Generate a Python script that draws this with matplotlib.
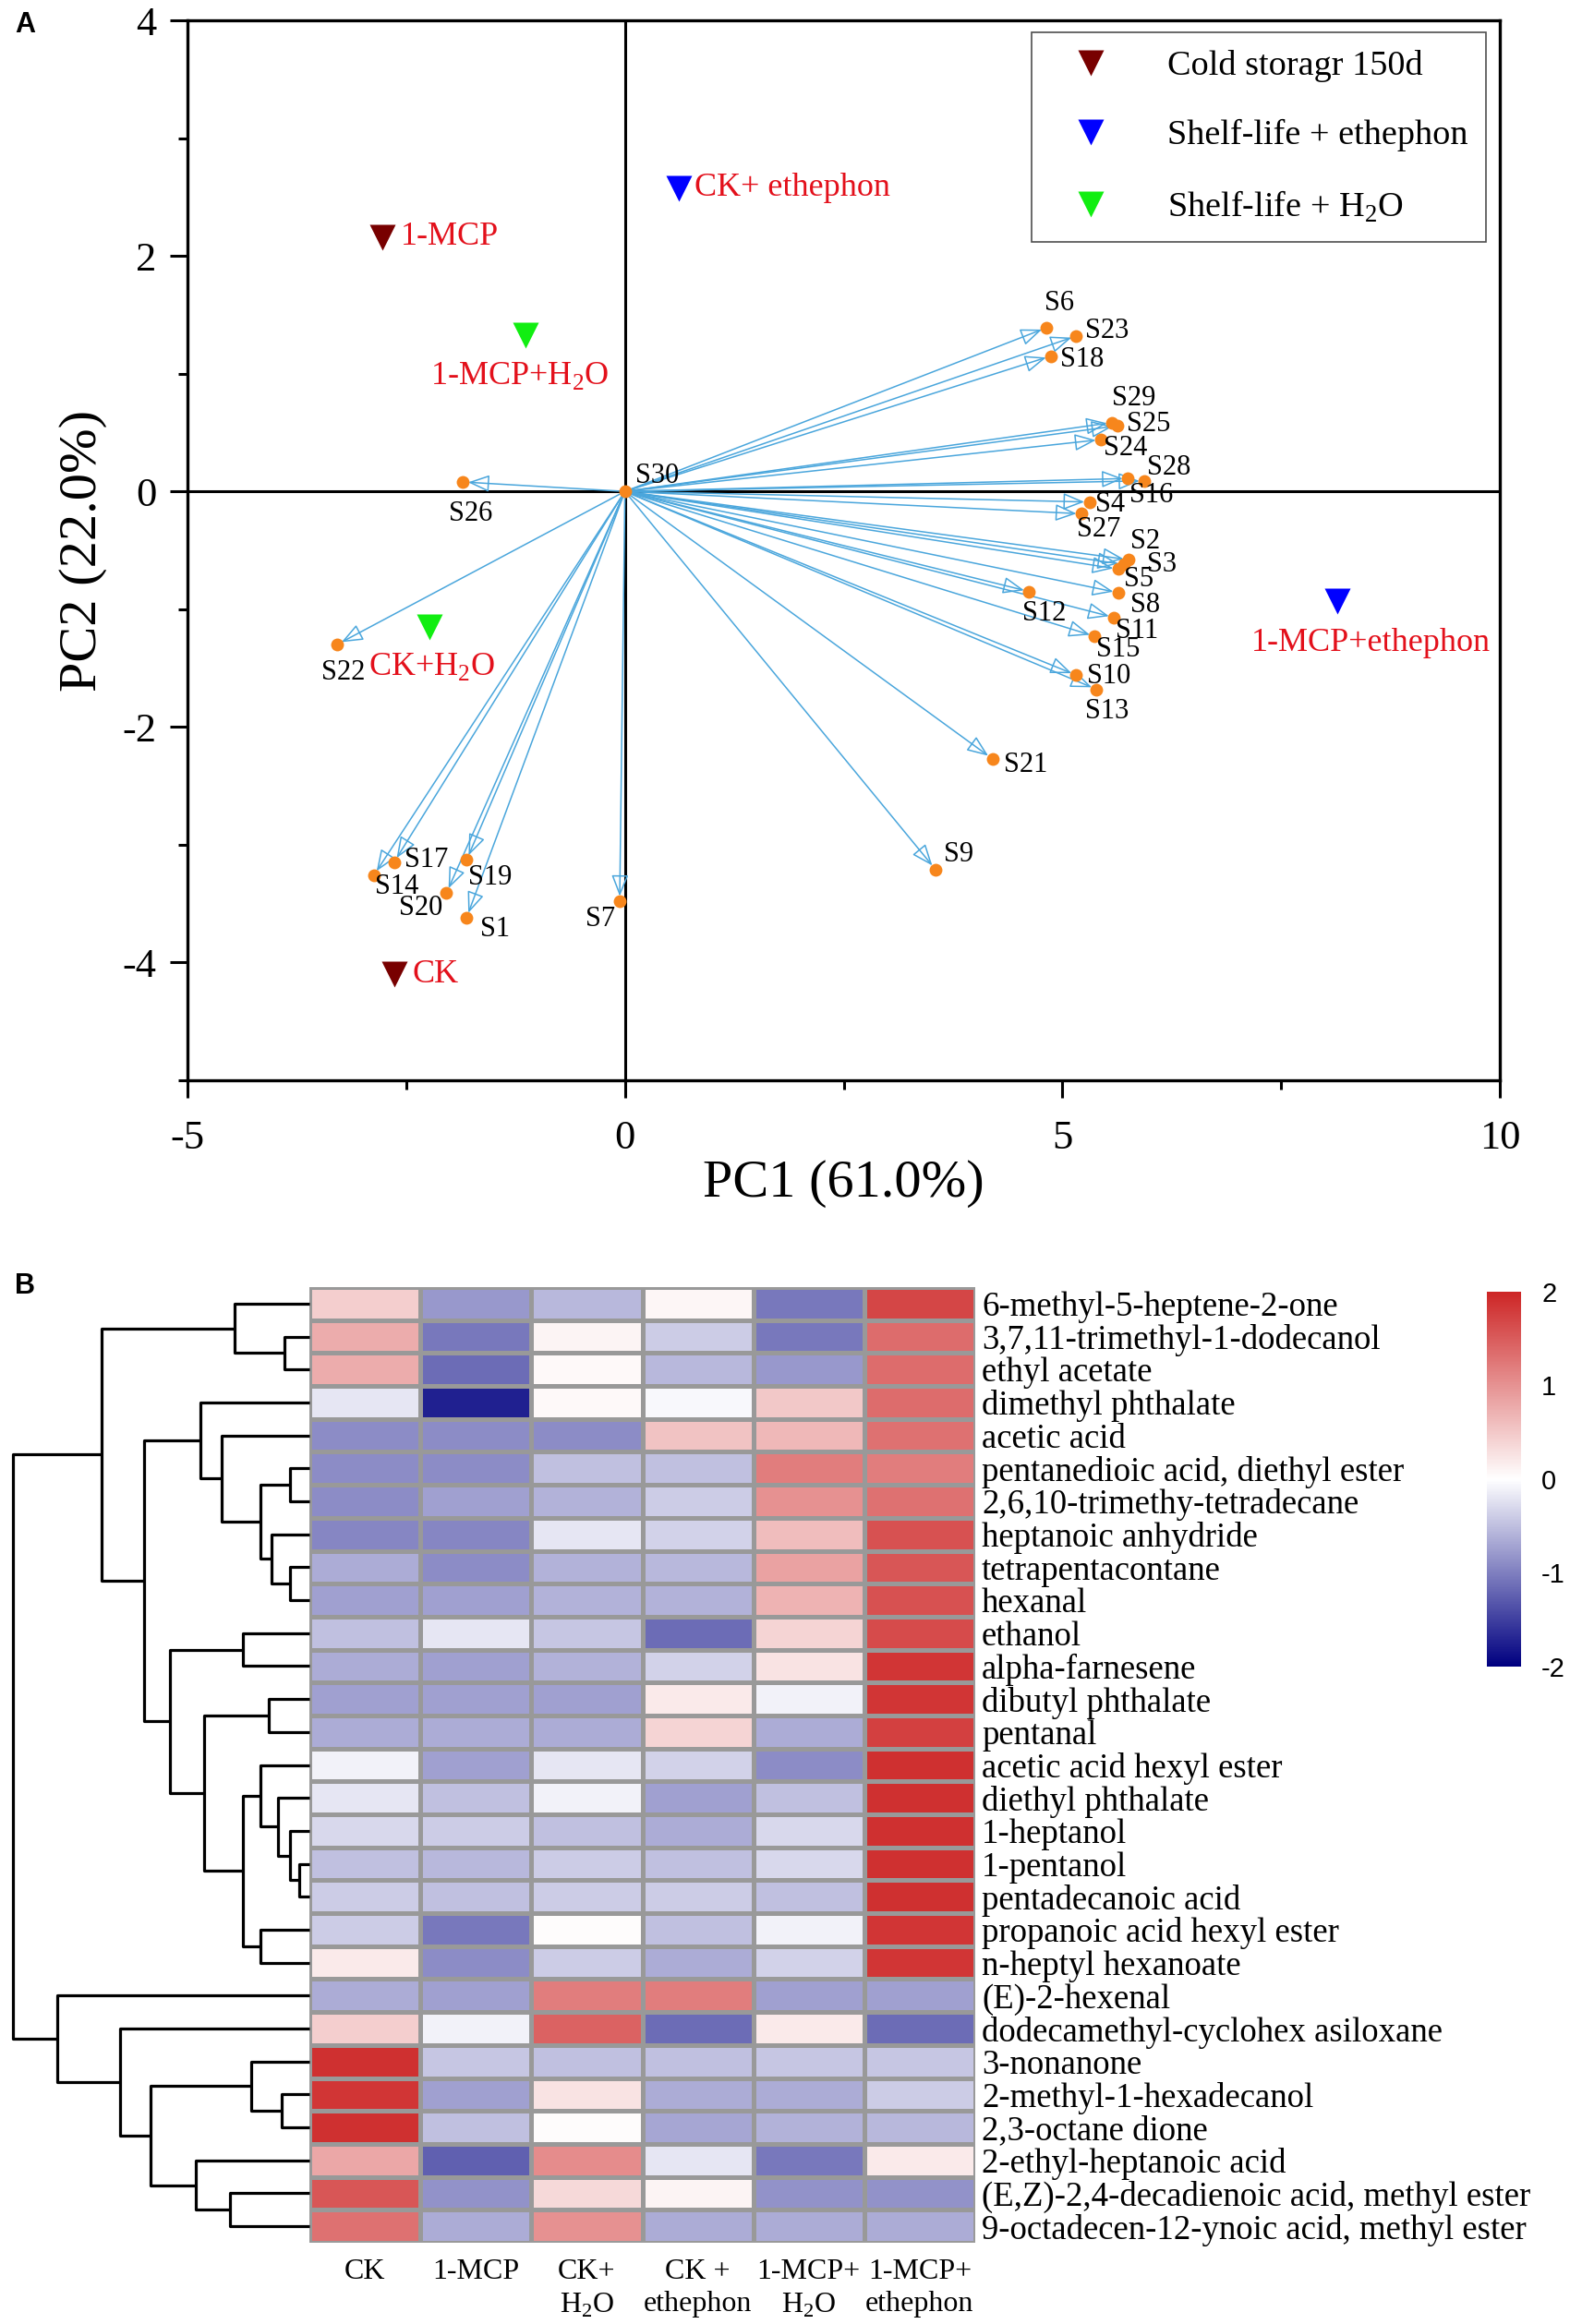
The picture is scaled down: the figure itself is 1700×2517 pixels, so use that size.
import numpy as np
import matplotlib
matplotlib.use("Agg")
import matplotlib.pyplot as plt
from matplotlib.colors import LinearSegmentedColormap
from matplotlib.lines import Line2D

plt.rcParams['font.family'] = ['Liberation Serif', 'DejaVu Serif']
plt.rcParams['mathtext.fontset'] = 'custom'
plt.rcParams['mathtext.rm'] = 'Liberation Serif'
plt.rcParams['axes.unicode_minus'] = False

# ---- panel A data: PCA biplot ----
load_names = ['S%d' % i for i in range(1, 31)]
load_pc1 = [-1.81, 5.76, 5.70, 5.31, 5.64, 4.82, -0.06, 5.64, 3.55, 5.16,
            5.59, 4.62, 5.39, -2.87, 5.37, 5.75, -2.64, 4.87, -1.81, -2.04,
            4.20, -3.29, 5.16, 5.44, 5.63, -1.85, 5.22, 5.94, 5.57, 0.0]
load_pc2 = [-3.62, -0.58, -0.62, -0.09, -0.66, 1.39, -3.48, -0.86, -3.21, -1.56,
            -1.07, -0.85, -1.68, -3.26, -1.23, 0.11, -3.15, 1.15, -3.13, -3.41,
            -2.27, -1.30, 1.32, 0.44, 0.557, 0.08, -0.19, 0.09, 0.585, 0.0]

group_names = ['CK', '1-MCP', 'CK+ ethephon', '1-MCP+ethephon',
               'CK+H$_\\mathregular{2}$O', '1-MCP+H$_\\mathregular{2}$O']
group_pc1 = [-2.64, -2.77, 0.62, 8.14, -2.23, -1.14]
group_pc2 = [-4.10, 2.16, 2.57, -0.93, -1.15, 1.33]
group_kind = [0, 0, 1, 1, 2, 2]
kind_names = ['Cold storagr 150d', 'Shelf-life + ethephon', 'Shelf-life + H$_\\mathregular{2}$O']
kind_colors = ['#780000', '#0000ff', '#11ee11']

# ---- panel B data: heatmap ----
compounds = ['6-methyl-5-heptene-2-one', '3,7,11-trimethyl-1-dodecanol', 'ethyl acetate',
             'dimethyl phthalate', 'acetic acid', 'pentanedioic acid, diethyl ester',
             '2,6,10-trimethy-tetradecane', 'heptanoic anhydride', 'tetrapentacontane',
             'hexanal', 'ethanol', 'alpha-farnesene', 'dibutyl phthalate', 'pentanal',
             'acetic acid hexyl ester', 'diethyl phthalate', '1-heptanol', '1-pentanol',
             'pentadecanoic acid', 'propanoic acid hexyl ester', 'n-heptyl hexanoate',
             '(E)-2-hexenal', 'dodecamethyl-cyclohex asiloxane', '3-nonanone',
             '2-methyl-1-hexadecanol', '2,3-octane dione', '2-ethyl-heptanoic acid',
             '(E,Z)-2,4-decadienoic acid, methyl ester',
             '9-octadecen-12-ynoic acid, methyl ester']
treatments = ['CK', '1-MCP', 'CK+\nH$_\\mathregular{2}$O', 'CK +\nethephon',
              '1-MCP+\nH$_\\mathregular{2}$O', '1-MCP+\nethephon']
z = [
    [0.45, -0.80, -0.55, 0.08, -1.05, 1.70],
    [0.75, -1.05, 0.10, -0.40, -1.05, 1.35],
    [0.75, -1.15, 0.05, -0.55, -0.80, 1.35],
    [-0.20, -1.75, 0.05, -0.05, 0.50, 1.35],
    [-0.90, -0.90, -0.90, 0.55, 0.65, 1.30],
    [-0.90, -0.90, -0.50, -0.50, 1.20, 1.20],
    [-0.90, -0.75, -0.60, -0.40, 1.00, 1.30],
    [-0.95, -0.95, -0.20, -0.35, 0.60, 1.60],
    [-0.65, -0.90, -0.60, -0.55, 0.85, 1.55],
    [-0.75, -0.75, -0.60, -0.60, 0.70, 1.60],
    [-0.50, -0.20, -0.45, -1.15, 0.40, 1.65],
    [-0.65, -0.75, -0.60, -0.35, 0.25, 1.85],
    [-0.75, -0.75, -0.75, 0.20, -0.10, 1.85],
    [-0.65, -0.65, -0.65, 0.40, -0.65, 1.75],
    [-0.10, -0.75, -0.20, -0.35, -0.90, 1.90],
    [-0.20, -0.50, -0.10, -0.75, -0.50, 1.90],
    [-0.30, -0.40, -0.50, -0.65, -0.30, 1.90],
    [-0.50, -0.55, -0.40, -0.50, -0.30, 1.90],
    [-0.40, -0.50, -0.40, -0.40, -0.50, 1.90],
    [-0.40, -1.05, 0.02, -0.50, -0.10, 1.85],
    [0.20, -0.90, -0.40, -0.65, -0.35, 1.85],
    [-0.65, -0.75, 1.20, 1.20, -0.75, -0.75],
    [0.45, -0.10, 1.45, -1.15, 0.20, -1.15],
    [1.90, -0.45, -0.50, -0.50, -0.45, -0.45],
    [1.85, -0.75, 0.25, -0.65, -0.65, -0.40],
    [1.90, -0.50, 0.02, -0.70, -0.60, -0.55],
    [0.80, -1.25, 1.05, -0.20, -1.05, 0.20],
    [1.55, -0.85, 0.35, 0.10, -0.85, -0.85],
    [1.30, -0.65, 1.00, -0.65, -0.65, -0.65],
]
# row dendrogram merges: ids >= 29 refer to earlier merges
merge_a = [1, 0, 5, 8, 7, 31, 4, 3, 10, 12, 17, 16, 15, 14, 19, 42, 38, 37, 36, 30,
           24, 23, 27, 26, 50, 22, 21, 48]
merge_b = [2, 29, 6, 9, 32, 33, 34, 35, 11, 13, 18, 39, 40, 41, 20, 43, 44, 45, 46, 47,
           25, 49, 28, 51, 52, 53, 54, 55]
merge_h = [38, 116, 30, 30, 58, 75, 135, 168, 103, 63, 16, 30, 48, 75, 75, 103, 162,
           216, 256, 321, 43, 90, 123, 175, 246, 293, 390, 458]

W, H = 1700, 2517
fig = plt.figure(figsize=(W / 100, H / 100), dpi=100)


def fax(x0, y0, x1, y1):
    return fig.add_axes([x0 / W, 1 - y1 / H, (x1 - x0) / W, (y1 - y0) / H])


# ================= panel A =================
ax = fax(203, 22, 1624, 1170)
ax.set_xlim(-5, 10)
ax.set_ylim(-5, 4)
ax.axhline(0, color='black', lw=2.2, zorder=1)
ax.axvline(0, color='black', lw=2.2, zorder=1)

arrow_c = '#4aa6dc'
for x, y in zip(load_pc1, load_pc2):
    if x == 0 and y == 0:
        continue
    ax.annotate('', xy=(x, y), xytext=(0, 0),
                arrowprops=dict(arrowstyle='-|>,head_length=0.75,head_width=0.3',
                                ec=arrow_c, fc='none', lw=1.1, shrinkA=0, shrinkB=4,
                                mutation_scale=19), zorder=2)
ax.plot(load_pc1, load_pc2, 'o', color='#f7861c', ms=10, mec='none', zorder=3)

lab_off = {'S1': (22, -9), 'S2': (13, 14), 'S3': (30, 0), 'S4': (16, -2), 'S5': (16, -8),
           'S6': (10, 19), 'S7': (-15, -14), 'S8': (21, -10), 'S9': (18, 12),
           'S10': (25, -1), 'S11': (18, -11), 'S12': (12, -17), 'S13': (8, -17),
           'S14': (18, -9), 'S15': (18, -10), 'S16': (18, -13), 'S17': (25, 2),
           'S18': (24, -3), 'S19': (18, -14), 'S20': (-20, -12), 'S21': (26, -5),
           'S22': (5, -22), 'S23': (24, 4), 'S24': (19, -7), 'S25': (24, 1),
           'S26': (6, -25), 'S27': (13, -12), 'S28': (19, 10), 'S29': (17, 19),
           'S30': (25, 12)}
for n, x, y in zip(load_names, load_pc1, load_pc2):
    dx, dy = lab_off[n]
    ax.annotate(n, (x, y), xytext=(dx, dy), textcoords='offset points',
                ha='center', va='center', fontsize=22, zorder=4)

grp_off = [(14, 0, 'left'), (14, 0, 'left'), (12, 1, 'left'), (26, -33, 'center'),
           (-48, -31, 'left'), (-4, -32, 'center')]
for n, x, y, k, (dx, dy, ha) in zip(group_names, group_pc1, group_pc2, group_kind, grp_off):
    ax.plot(x, y, 'v', color=kind_colors[k], ms=20, mec='none', zorder=5)
    ax.annotate(n, (x, y), xytext=(dx, dy), textcoords='offset points',
                ha=ha, va='center', fontsize=26, color='#e3101b', zorder=5)

handles = [Line2D([], [], ls='none', marker='v', ms=20, color=c, mec='none')
           for c in kind_colors]
leg = ax.legend(handles, kind_names, loc='upper right',
                bbox_to_anchor=(1609 / W, 1 - 35 / H), bbox_transform=fig.transFigure,
                fontsize=27.5, frameon=True, fancybox=False, borderaxespad=0,
                borderpad=0.5, labelspacing=1.05, handlelength=2.35, handletextpad=1.0)
leg.get_frame().set_edgecolor('#222222')
leg.get_frame().set_linewidth(1.2)

for s in ax.spines.values():
    s.set_linewidth(2.4)
ax.set_xticks([-5, 0, 5, 10])
ax.set_xticks([-2.5, 2.5, 7.5], minor=True)
ax.set_yticks([-4, -2, 0, 2, 4])
ax.set_yticks([-5, -3, -1, 1, 3], minor=True)
ax.tick_params(which='major', length=14, width=2.2, labelsize=32, direction='out')
ax.tick_params(which='minor', length=7, width=2.2, direction='out')
ax.tick_params(axis='x', which='major', pad=17)
ax.tick_params(axis='y', which='major', pad=10)
ax.set_xlabel('PC1 (61.0%)', fontsize=42, labelpad=2)
ax.set_ylabel('PC2 (22.0%)', fontsize=42, labelpad=12)

fig.text(27 / W, 1 - 27 / H, 'A', fontsize=22, fontweight='bold',
         family='Liberation Sans', ha='center', va='center')
fig.text(27 / W, 1 - 1393 / H, 'B', fontsize=22, fontweight='bold',
         family='Liberation Sans', ha='center', va='center')

# ================= panel B =================
cmap = LinearSegmentedColormap.from_list('nwf', ['#000080', '#ffffff', '#cd2626'])
zz = np.array(z)
nrow, ncol = zz.shape

axh = fax(335, 1394, 1056, 2429)
mesh = axh.pcolormesh(zz, cmap=cmap, vmin=-2, vmax=2, edgecolors='#999999', linewidth=2.5)
axh.set_xlim(0, ncol)
axh.set_ylim(nrow, 0)
for s in axh.spines.values():
    s.set_visible(False)
axh.yaxis.tick_right()
axh.set_yticks(np.arange(nrow) + 0.5)
axh.set_yticklabels(compounds, fontsize=26.5)
axh.set_xticks(np.arange(ncol) + 0.5)
axh.set_xticklabels(treatments, fontsize=23, linespacing=1.3)
axh.tick_params(axis='y', length=0, pad=5)
axh.tick_params(axis='x', length=0, pad=12)

axd = fax(14, 1394, 335, 2429)
axd.set_xlim(458, 0)
axd.set_ylim(nrow, 0)
axd.axis('off')


def node(i):
    if i < nrow:
        return i + 0.5, 0
    k = i - nrow
    ya, ha = node(merge_a[k])
    yb, hb = node(merge_b[k])
    h = merge_h[k]
    axd.plot([ha, h, h, hb], [ya, ya, yb, yb], color='black', lw=2.3,
             solid_capstyle='butt', clip_on=False)
    return (ya + yb) / 2, h


node(nrow + len(merge_h) - 1)

cax = fax(1610, 1399, 1647, 1805)
cb = fig.colorbar(mesh, cax=cax, ticks=[-2, -1, 0, 1, 2])
cb.outline.set_visible(False)
cax.tick_params(length=0, pad=16)
for t in cax.get_yticklabels():
    t.set_fontfamily('Liberation Sans')
    t.set_fontsize(21)

fig.savefig('out.png', dpi=100)
